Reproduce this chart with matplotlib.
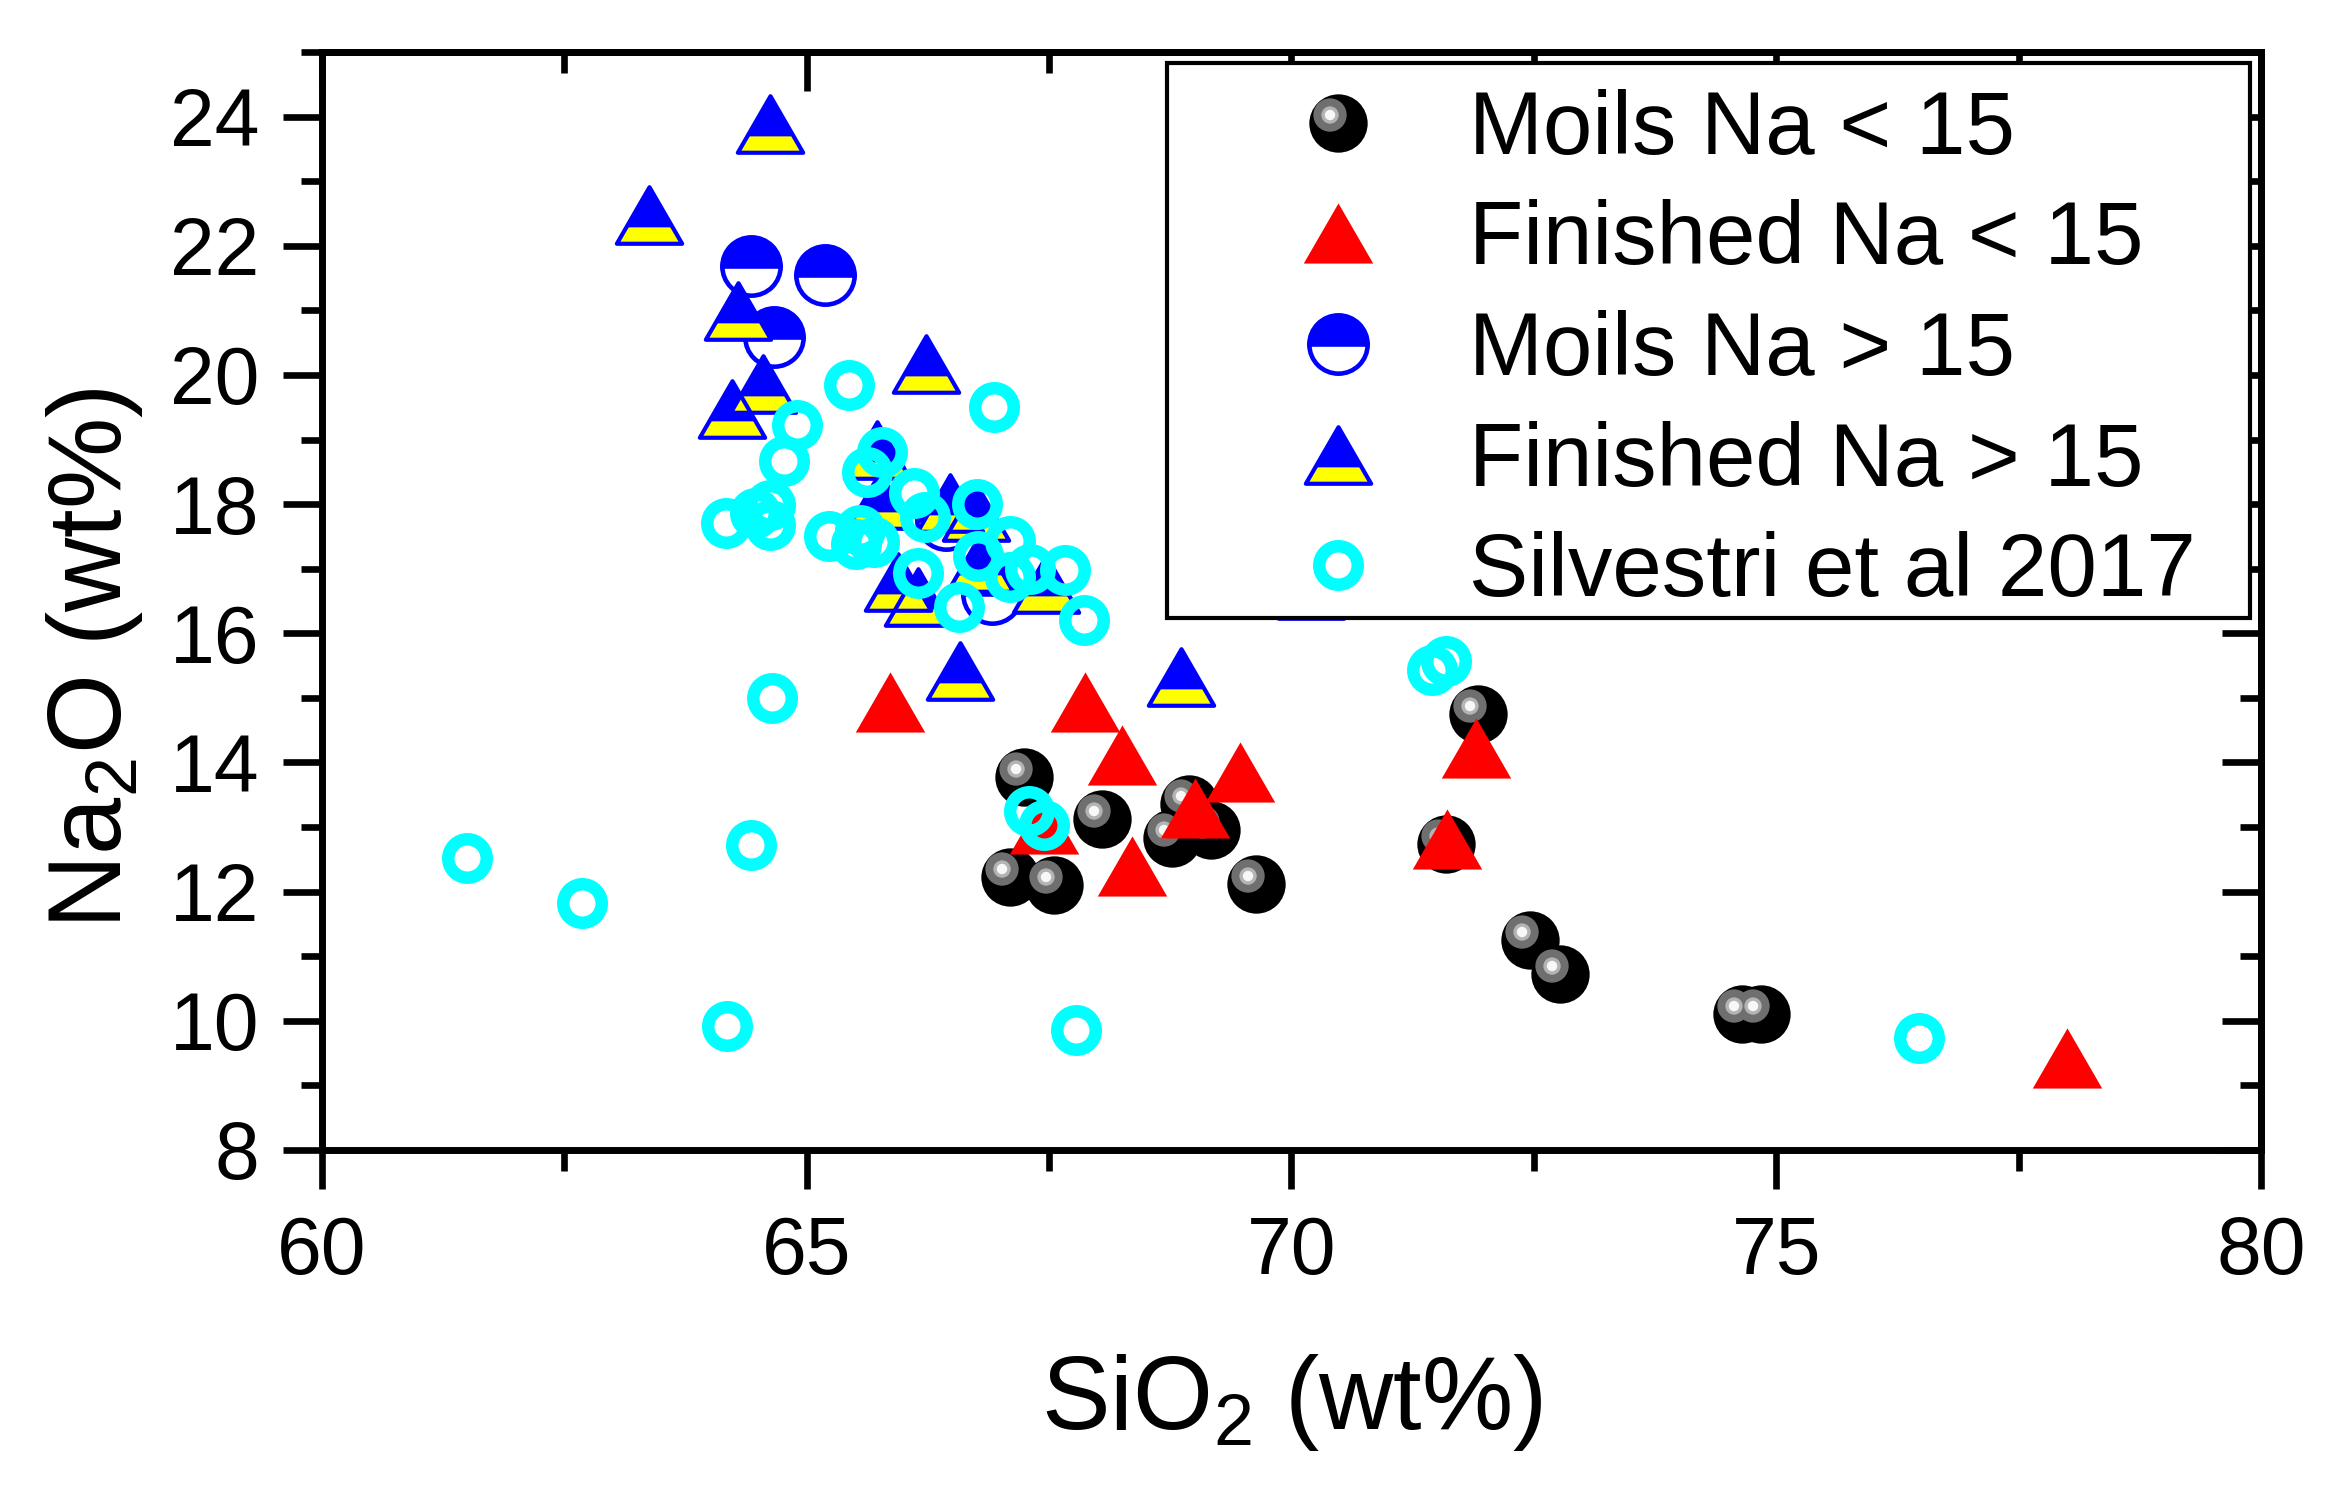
import numpy as np
import matplotlib
matplotlib.use('Agg')
import matplotlib.pyplot as plt
from matplotlib.path import Path
from matplotlib.markers import MarkerStyle
from matplotlib.transforms import Affine2D
from matplotlib.ticker import MultipleLocator
from matplotlib.patches import Rectangle

plt.rcParams['font.family'] = ['Liberation Sans', 'DejaVu Sans']

# values: SiO2 (x) and Na2O (y), wt%
moils_lo_x = [67.24, 68.05, 67.10, 67.55, 69.63, 68.77, 68.94, 69.17,
              71.92, 71.59, 72.46, 72.77, 74.65, 74.84]
moils_lo_y = [13.77, 13.13, 12.23, 12.10, 12.12, 12.83, 13.36, 12.96,
              14.75, 12.74, 11.25, 10.72, 10.10, 10.10]

fin_lo_x = [65.86, 67.87, 68.25, 69.47, 69.00, 68.36, 67.45, 71.60, 71.90, 78.00]
fin_lo_y = [14.93, 14.93, 14.11, 13.86, 13.29, 12.40, 13.05, 12.81, 14.22, 9.42]

moils_hi_x = [64.43, 65.19, 64.66, 66.44, 66.91]
moils_hi_y = [21.68, 21.55, 20.59, 17.75, 16.61]

fin_hi_x = [64.62, 63.37, 64.29, 64.55, 64.23, 66.23, 65.72, 66.48, 65.76,
            66.75, 65.94, 66.15, 67.47, 66.79, 66.58, 68.86, 70.20]
fin_hi_y = [23.89, 22.48, 20.99, 19.86, 19.48, 20.17, 18.84, 18.01, 18.06,
            17.88, 16.80, 16.56, 16.77, 17.09, 15.41, 15.33, 16.67]

silv_x = [61.50, 62.68, 64.18, 64.43, 64.64, 67.78, 76.47, 71.45, 71.59,
          67.29, 67.45, 65.44, 66.93, 64.90, 64.77, 65.78, 65.62, 66.11,
          66.22, 66.76, 64.17, 64.47, 64.62, 64.62, 65.23, 65.55, 65.51,
          65.69, 66.15, 67.10, 66.77, 67.10, 67.30, 67.66, 66.57, 67.86]
silv_y = [12.52, 11.83, 9.92, 12.72, 15.00, 9.86, 9.74, 15.43, 15.57,
          13.25, 13.03, 19.84, 19.50, 19.22, 18.66, 18.80, 18.50, 18.17,
          17.80, 18.00, 17.70, 17.86, 17.98, 17.67, 17.50, 17.60, 17.38,
          17.42, 16.94, 17.43, 17.20, 16.87, 16.99, 16.98, 16.40, 16.21]

labels = ['Moils Na < 15', 'Finished Na < 15', 'Moils Na > 15',
          'Finished Na > 15', 'Silvestri et al 2017']

BLUE = '#0000ff'
YELLOW = '#ffff00'
RED = '#ff0000'
CYAN = '#00ffff'

# equilateral triangle and the yellow band at its foot
tri_path = Path([(0, 0.866), (-1, -0.866), (1, -0.866), (0, 0.866)], closed=True)
band_path = Path([(-1, -0.866), (1, -0.866), (0.71, -0.364), (-0.71, -0.364),
                  (-1, -0.866)], closed=True)
tri = MarkerStyle(tri_path, joinstyle='miter')
band = MarkerStyle(band_path, joinstyle='miter')


def shine(size, off=6.1):
    # highlight circle shifted up-left by `off` points
    return MarkerStyle('o', transform=Affine2D().translate(-off / size, off / size))


fig = plt.figure(figsize=(23.46, 14.90), dpi=100)
ax = fig.add_axes([0.13725, 0.22819, 0.82652, 0.73691])

ball = ax.plot(moils_lo_x, moils_lo_y, ls='none', marker='o', ms=42,
               mfc='black', mec='black', mew=0, zorder=3)[0]
ball_hl = []
for size, col in [(24, '#6f6f6f'), (12.5, '#b4b4b4'), (7.5, '#f8f8f8')]:
    ball_hl.append(ax.plot(moils_lo_x, moils_lo_y, ls='none', marker=shine(size),
                           ms=size, mfc=col, mew=0, zorder=3)[0])

red = ax.plot(fin_lo_x, fin_lo_y, ls='none', marker=tri, ms=50,
              mfc=RED, mew=0, zorder=4)[0]

half = ax.plot(moils_hi_x, moils_hi_y, ls='none', marker='o', ms=42,
               fillstyle='top', mfc=BLUE, mfcalt='white', mec=BLUE, mew=3.3,
               zorder=5)[0]

bt_fill = ax.plot(fin_hi_x, fin_hi_y, ls='none', marker=tri, ms=47,
                  mfc=BLUE, mew=0, zorder=6)[0]
bt_band = ax.plot(fin_hi_x, fin_hi_y, ls='none', marker=band, ms=47,
                  mfc=YELLOW, mew=0, zorder=6)[0]
bt_edge = ax.plot(fin_hi_x, fin_hi_y, ls='none', marker=tri, ms=47,
                  mfc='none', mec=BLUE, mew=3, zorder=6)[0]

cyan = ax.plot(silv_x, silv_y, ls='none', marker='o', ms=27.7,
               mfc='none', mec=CYAN, mew=9, zorder=7)[0]

ax.set_xlim(60, 80)
ax.set_ylim(8, 25)
ax.xaxis.set_major_locator(MultipleLocator(5))
ax.xaxis.set_minor_locator(MultipleLocator(2.5))
ax.yaxis.set_minor_locator(MultipleLocator(1))
ax.set_yticks(np.arange(8, 25, 2))

for s in ax.spines.values():
    s.set_linewidth(5)

ax.tick_params(which='both', direction='out', width=4.8, top=False, right=False,
               labelsize=58)
ax.tick_params(which='major', length=28)
ax.tick_params(which='minor', length=15)
ax.tick_params(axis='x', pad=19)
ax.tick_params(axis='y', pad=17)

# mirrored ticks pointing inward on top and right
top = ax.secondary_xaxis('top')
top.xaxis.set_major_locator(MultipleLocator(5))
top.xaxis.set_minor_locator(MultipleLocator(2.5))
top.tick_params(which='both', direction='in', width=4.8, labeltop=False)
top.tick_params(which='major', length=28)
top.tick_params(which='minor', length=15)
top.spines['top'].set_linewidth(5)

right = ax.secondary_yaxis('right')
right.yaxis.set_major_locator(MultipleLocator(2))
right.yaxis.set_minor_locator(MultipleLocator(1))
right.tick_params(which='both', direction='in', width=4.8, labelright=False)
right.tick_params(which='major', length=28)
right.tick_params(which='minor', length=15)
right.spines['right'].set_linewidth(5)

ax.set_xlabel(r'$\mathregular{SiO_2}$ (wt%)', fontsize=74)
ax.set_ylabel(r'$\mathregular{Na_2O}$ (wt%)', fontsize=74)
ax.xaxis.set_label_coords(0.5, -0.184)
ax.yaxis.set_label_coords(-0.0915, 0.448)

# legend box (opaque, over the data) with its entries
frame = Rectangle((0.4358, 0.4845), 0.9943 - 0.4358, 0.98998 - 0.4845,
                  transform=ax.transAxes, fc='white', ec='black', lw=3, zorder=10)
ax.add_patch(frame)

handles = [tuple([ball] + ball_hl), red, half, (bt_fill, bt_band, bt_edge), cyan]
leg = ax.legend(handles, labels, loc='upper left', bbox_to_anchor=(0.5033, 0.9665),
                frameon=False, fontsize=64, borderpad=0, borderaxespad=0,
                handlelength=0.9, handleheight=0.7, handletextpad=1.03,
                labelspacing=0.30, numpoints=1)
leg.set_zorder(11)

fig.savefig('out.png', dpi=100)
